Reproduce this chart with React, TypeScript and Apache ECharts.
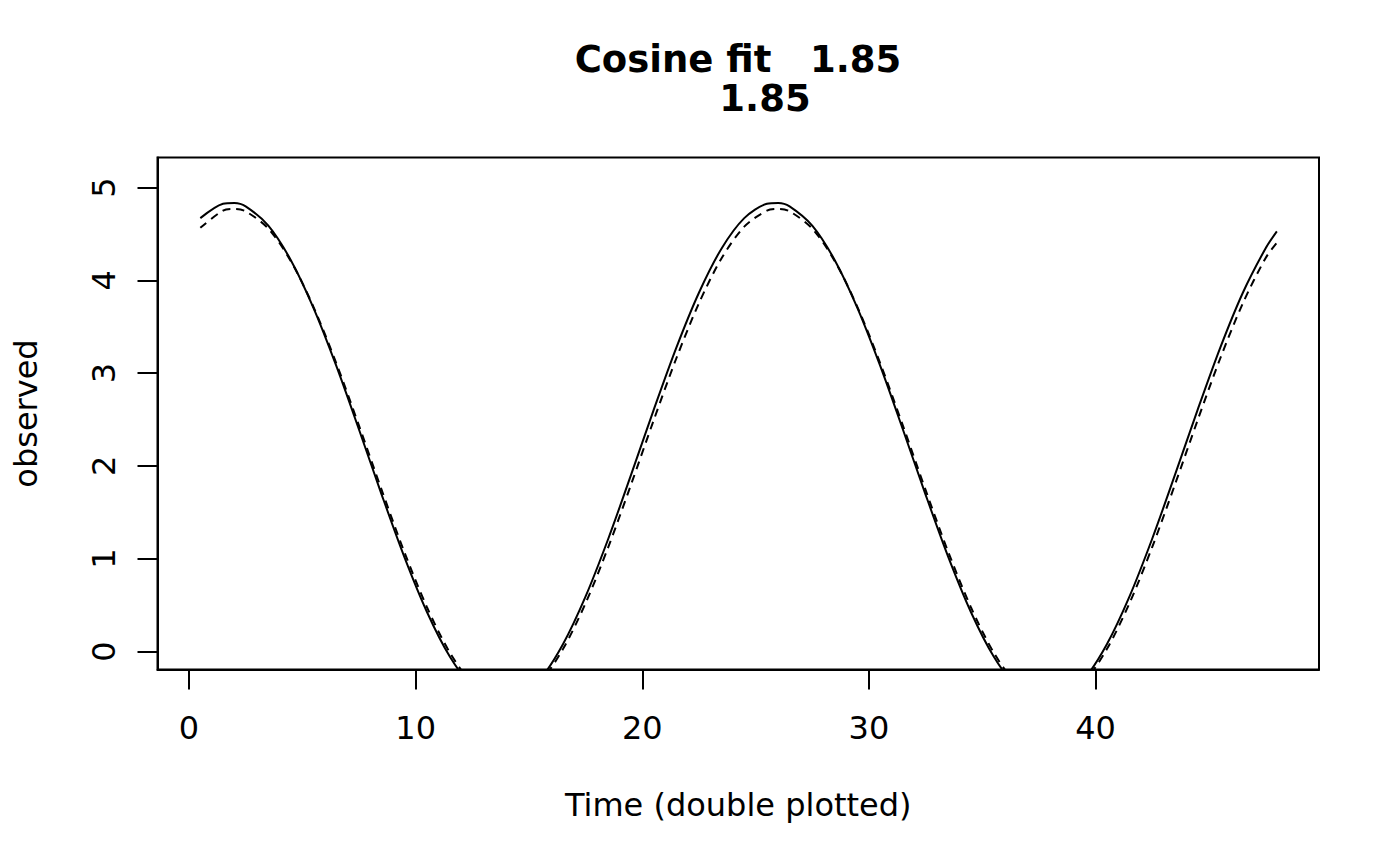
import { useEffect, useRef } from "react";
import * as echarts from "echarts";

// time in hours (double plotted, 0.5 .. 48)
const hours = [
  0.5, 1.5, 2, 2.5, 3.5, 4.5, 5.5, 6.5, 7.5, 8.5, 9.5, 10.5, 11.5,
  12.5, 13.5, 14.5, 15.5, 16.5, 17.5, 18.5, 19.5, 20.5, 21.5, 22.5, 23.5,
  24.5, 25.5, 26, 26.5, 27.5, 28.5, 29.5, 30.5, 31.5, 32.5, 33.5, 34.5, 35.5,
  36.5, 37.5, 38.5, 39.5, 40.5, 41.5, 42.5, 43.5, 44.5, 45.5, 46.5, 47.5, 48,
];

// solid curve
const solidFit = [
  4.67, 4.825, 4.834, 4.797, 4.589, 4.214, 3.698, 3.077, 2.392, 1.691, 1.02, 0.426, -0.051,
  -0.378, -0.533, -0.505, -0.297, 0.078, 0.594, 1.215, 1.9, 2.601, 3.272, 3.866, 4.343,
  4.67, 4.825, 4.834, 4.797, 4.589, 4.214, 3.698, 3.077, 2.392, 1.691, 1.02, 0.426, -0.051,
  -0.378, -0.533, -0.505, -0.297, 0.078, 0.594, 1.215, 1.9, 2.601, 3.272, 3.866, 4.343, 4.527,
];

// dashed curve
const dashedFit = [
  4.565, 4.751, 4.77, 4.743, 4.557, 4.204, 3.709, 3.105, 2.434, 1.741, 1.073, 0.477, -0.008,
  -0.348, -0.521, -0.513, -0.327, 0.026, 0.521, 1.125, 1.796, 2.489, 3.157, 3.753, 4.238,
  4.578, 4.751, 4.77, 4.743, 4.557, 4.204, 3.709, 3.105, 2.434, 1.741, 1.073, 0.477, -0.008,
  -0.348, -0.521, -0.513, -0.327, 0.026, 0.521, 1.125, 1.796, 2.489, 3.157, 3.753, 4.238, 4.405,
];

const xTicks = [0, 10, 20, 30, 40];
const yTicks = [0, 1, 2, 3, 4, 5];

const titleLine1 = "Cosine fit   1.85";
const titleLine2 = "1.85";

const FONT = "DejaVu Sans";

export default function App() {
  const divRef = useRef<HTMLDivElement>(null);

  useEffect(() => {
    if (!divRef.current) return;
    const chart = echarts.init(divRef.current, null, { renderer: "svg" });

    const axisLine = {
      show: true,
      onZero: false,
      lineStyle: { color: "#000", width: 2 },
    };

    const option = {
      animation: false,
      backgroundColor: "#fff",
      grid: {
        left: 157.5,
        right: 81,
        top: 157.5,
        bottom: 196.5,
        show: true,
        borderColor: "#000",
        borderWidth: 2,
      },
      graphic: [
        {
          type: "text",
          x: 738,
          y: 59,
          style: {
            text: titleLine1,
            font: `bold 37px '${FONT}'`,
            lineHeight: 34,
            fill: "#000",
            textAlign: "center",
            textVerticalAlign: "middle",
          },
        },
        {
          type: "text",
          x: 765,
          y: 98,
          style: {
            text: titleLine2,
            font: `bold 37px '${FONT}'`,
            lineHeight: 34,
            fill: "#000",
            textAlign: "center",
            textVerticalAlign: "middle",
          },
        },
      ],
      xAxis: {
        type: "value",
        min: -1.39,
        max: 49.86,
        name: "Time (double plotted)",
        nameLocation: "middle",
        nameGap: 119,
        nameTextStyle: { fontFamily: FONT, fontSize: 32, color: "#000" },
        axisLine,
        splitLine: { show: false },
        axisTick: {
          show: true,
          inside: false,
          length: 20,
          customValues: xTicks,
          lineStyle: { color: "#000", width: 2 },
        },
        axisLabel: {
          customValues: xTicks,
          margin: 42,
          fontFamily: FONT,
          fontSize: 32,
          color: "#000",
        },
      },
      yAxis: {
        type: "value",
        min: -0.194,
        max: 5.323,
        name: "observed",
        nameLocation: "middle",
        nameRotate: 90,
        nameGap: 116,
        nameTextStyle: { fontFamily: FONT, fontSize: 32, color: "#000" },
        axisLine,
        splitLine: { show: false },
        axisTick: {
          show: true,
          inside: false,
          length: 20,
          customValues: yTicks,
          lineStyle: { color: "#000", width: 2 },
        },
        axisLabel: {
          customValues: yTicks,
          rotate: 90,
          margin: 38,
          fontFamily: FONT,
          fontSize: 32,
          color: "#000",
        },
      },
      series: [
        {
          type: "line",
          data: hours.map((h, i) => [h, solidFit[i]]),
          showSymbol: false,
          smooth: 0.3,
          clip: true,
          lineStyle: { color: "#000", width: 2, type: "solid" },
        },
        {
          type: "line",
          data: hours.map((h, i) => [h, dashedFit[i]]),
          showSymbol: false,
          smooth: 0.3,
          clip: true,
          lineStyle: { color: "#000", width: 2, type: [8, 6] },
        },
      ],
    };

    chart.setOption(option);

    const handleResize = () => chart.resize();
    window.addEventListener("resize", handleResize);
    return () => {
      window.removeEventListener("resize", handleResize);
      chart.dispose();
    };
  }, []);

  return (
    <div
      ref={divRef}
      style={{ position: "fixed", left: 0, top: 0, width: 1400, height: 866 }}
    />
  );
}
